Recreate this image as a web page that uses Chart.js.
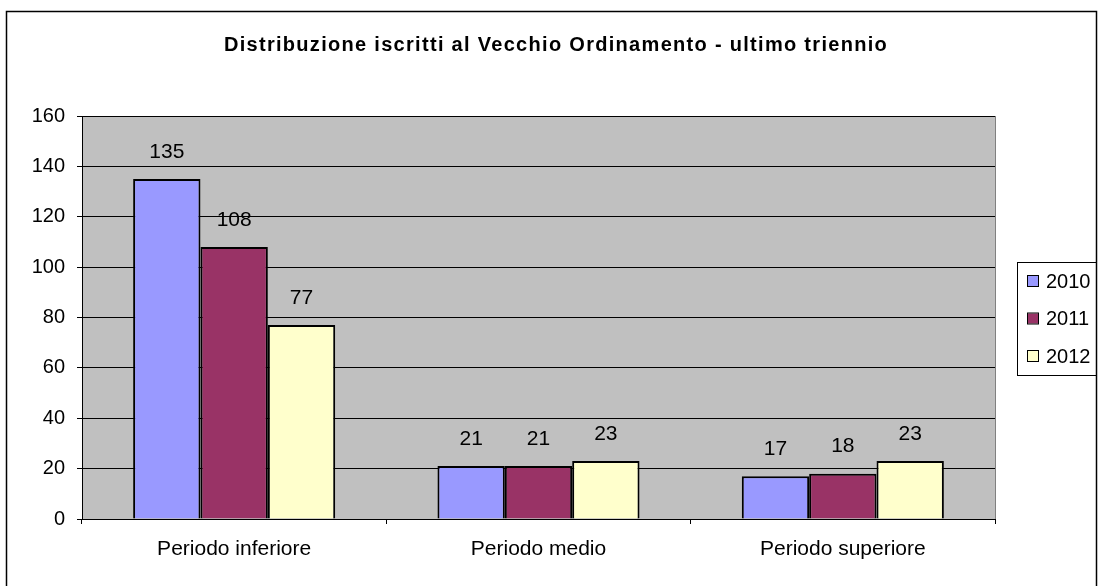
<!DOCTYPE html>
<html>
<head>
<meta charset="utf-8">
<script src="https://cdn.jsdelivr.net/npm/chart.js@4/dist/chart.umd.min.js"></script>
<style>
  html, body { margin: 0; padding: 0; background: #fff; }
  #wrap { width: 1098px; height: 586px; }
</style>
</head>
<body>
<div id="wrap"><canvas id="myChart" width="1098" height="586"></canvas></div>
<script>
var title = 'Distribuzione iscritti al Vecchio Ordinamento - ultimo triennio';
var categories = ['Periodo inferiore', 'Periodo medio', 'Periodo superiore'];
var years = ['2010', '2011', '2012'];
var values2010 = [135, 21, 17];
var values2011 = [108, 21, 18];
var values2012 = [77, 23, 23];
var yTicks = [0, 20, 40, 60, 80, 100, 120, 140, 160];

var colors = ['#9999FF', '#993366', '#FFFFCC'];
var font = 'Arial, "Liberation Sans", sans-serif';

// grey plot area + outer frame + title (centred on the whole frame)
var background = {
    id: 'background',
    beforeDraw: function (chart) {
        var ctx = chart.ctx, a = chart.chartArea;
        ctx.save();
        ctx.fillStyle = '#fff';
        ctx.fillRect(0, 0, chart.width, chart.height);
        ctx.strokeStyle = '#000';
        ctx.lineWidth = 1.5;
        ctx.strokeRect(6.5, 11.5, 1090, 600);
        ctx.fillStyle = '#C0C0C0';
        ctx.fillRect(a.left, a.top, a.right - a.left, a.bottom - a.top);
        ctx.strokeStyle = '#808080';
        ctx.lineWidth = 1;
        ctx.strokeRect(a.left + 0.5, a.top + 0.5, a.right - a.left, a.bottom - a.top);

        ctx.fillStyle = '#000';
        ctx.font = 'bold 20px ' + font;
        ctx.letterSpacing = '1.3px';
        ctx.textAlign = 'center';
        ctx.textBaseline = 'middle';
        ctx.fillText(title, 556, 45);
        ctx.restore();
    }
};

// numbers over bars and the boxed legend on the right
var labelsAndLegend = {
    id: 'labelsAndLegend',
    afterDatasetsDraw: function (chart) {
        var ctx = chart.ctx;
        ctx.save();
        ctx.fillStyle = '#000';
        ctx.font = '21px ' + font;
        ctx.textAlign = 'center';
        ctx.textBaseline = 'middle';
        chart.data.datasets.forEach(function (ds, i) {
            chart.getDatasetMeta(i).data.forEach(function (bar, j) {
                ctx.fillText(ds.data[j], bar.x, bar.y - 27);
            });
        });

        ctx.strokeStyle = '#000';
        ctx.lineWidth = 1;
        ctx.strokeRect(1017.5, 262.5, 79, 113);
        ctx.font = '20px ' + font;
        ctx.textAlign = 'left';
        chart.data.datasets.forEach(function (ds, i) {
            var cy = 281 + i * 37.5;
            ctx.fillStyle = ds.backgroundColor;
            ctx.fillRect(1028, cy - 5, 10, 10);
            ctx.strokeRect(1027.5, cy - 5.5, 11, 11);
            ctx.fillStyle = '#000';
            ctx.fillText(ds.label, 1046, cy + 1);
        });
        ctx.restore();
    }
};

var ctx = document.getElementById('myChart').getContext('2d');
new Chart(ctx, {
    type: 'bar',
    data: {
        labels: categories,
        datasets: [
            { label: years[0], data: values2010, backgroundColor: colors[0] },
            { label: years[1], data: values2011, backgroundColor: colors[1] },
            { label: years[2], data: values2012, backgroundColor: colors[2] }
        ].map(function (d) {
            d.borderColor = '#000';
            d.borderWidth = 2;
            d.categoryPercentage = 0.664;
            d.barPercentage = 1;
            return d;
        })
    },
    options: {
        responsive: false,
        animation: false,
        layout: { padding: { left: 0, right: 103, top: 116, bottom: 0 } },
        plugins: {
            legend: { display: false },
            tooltip: { enabled: false },
            title: { display: false }
        },
        scales: {
            x: {
                offset: true,
                grid: { offset: true, drawOnChartArea: false, color: '#000', tickLength: 5 },
                border: { color: '#000', width: 1 },
                ticks: { color: '#000', font: { family: font, size: 21 }, padding: 13 },
                afterFit: function (scale) { scale.height = 67; }
            },
            y: {
                min: 0,
                max: 160,
                afterBuildTicks: function (scale) {
                    scale.ticks = yTicks.map(function (v) { return { value: v }; });
                },
                grid: { color: '#000', tickLength: 5 },
                border: { color: '#000', width: 1 },
                ticks: { color: '#000', font: { family: font, size: 20 }, padding: 12 },
                afterFit: function (scale) { scale.width = 82; }
            }
        }
    },
    plugins: [background, labelsAndLegend]
});
</script>
</body>
</html>
